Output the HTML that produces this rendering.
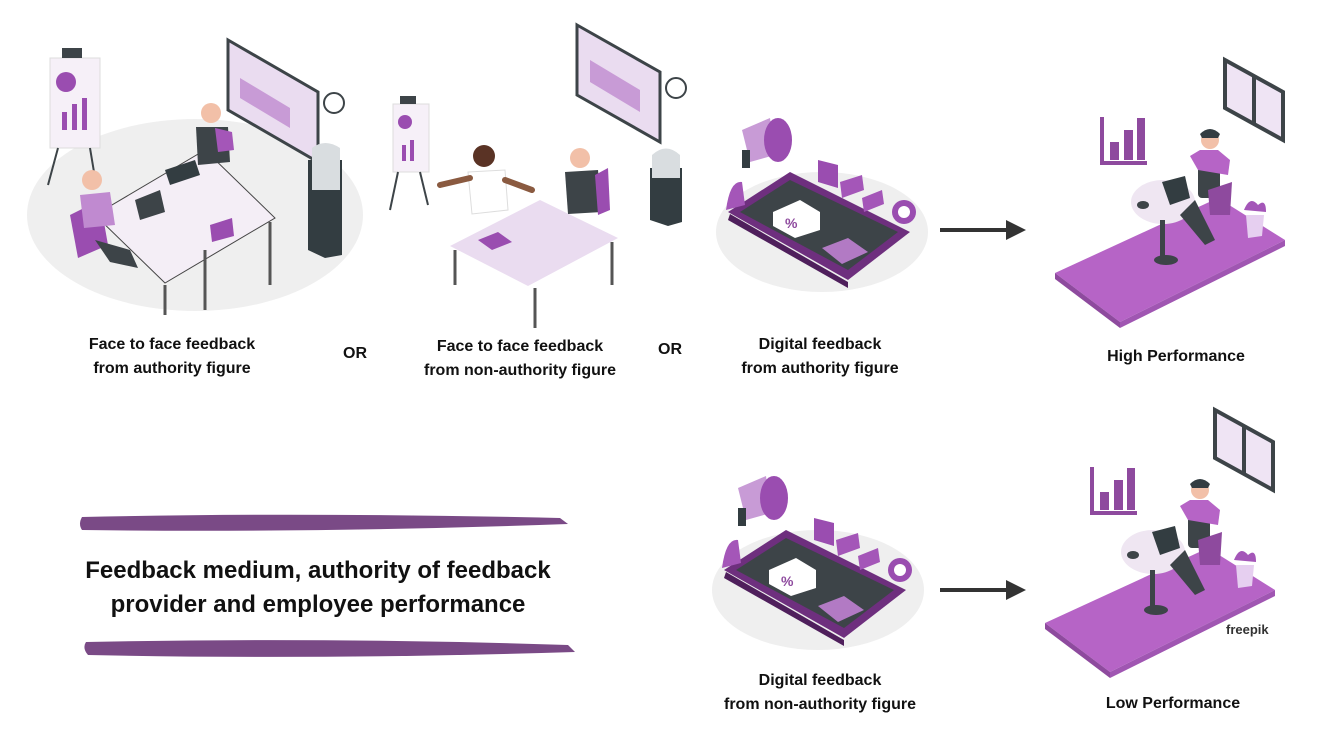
<!DOCTYPE html>
<html><head><style>
body{margin:0;background:#fff;width:1344px;height:756px;overflow:hidden;position:relative;font-family:"Liberation Sans",Arial,sans-serif}
.t{position:absolute;font-weight:bold;font-size:16px;color:#111;text-align:center;line-height:24px;white-space:nowrap}
.h{position:absolute;font-weight:bold;font-size:24px;color:#111;text-align:center;line-height:34px;white-space:nowrap}
svg{position:absolute;left:0;top:0}
</style></head><body>
<svg width="1344" height="756" viewBox="0 0 1344 756">
<defs>
<g id="phone">
 <ellipse cx="822" cy="232" rx="106" ry="60" fill="#efefef"/>
 <path d="M728 212 L790 172 L910 232 L848 280 Z" fill="#6e2f7e"/>
 <path d="M740 212 L790 180 L898 232 L848 270 Z" fill="#3d4448"/>
 <path d="M730 214 L848 282 L848 288 L728 220Z" fill="#4f1f5c"/>
 <path d="M773 212 L800 200 L820 212 L820 230 L795 238 L773 226Z" fill="#fff"/>
 <text x="785" y="228" font-size="14" font-weight="bold" fill="#8e4a9e" font-family="Liberation Sans,sans-serif">%</text>
 <path d="M822 248 L848 238 L868 252 L842 264Z" fill="#b27ac4"/>
 <path d="M742 130 L770 118 L775 155 L750 162Z" fill="#c89bd6"/>
 <ellipse cx="778" cy="140" rx="14" ry="22" fill="#9a4db0"/>
 <rect x="742" y="150" width="8" height="18" fill="#333d41"/>
 <path d="M818 160 L838 165 L838 188 L818 182Z" fill="#9a4db0"/>
 <path d="M840 182 L862 175 L864 190 L842 198Z" fill="#a456b8"/>
 <path d="M862 198 L882 190 L884 204 L864 212Z" fill="#a456b8"/>
 <circle cx="904" cy="212" r="12" fill="#9a4db0"/><circle cx="904" cy="212" r="6" fill="#fff"/>
 <path d="M726 210 Q730 180 742 182 L745 205Z" fill="#a456b8"/>
</g>
<g id="room">
 <path d="M1055 273 L1218 198 L1285 240 L1120 322 Z" fill="#b664c6"/>
 <path d="M1055 273 L1120 322 L1120 328 L1055 279Z" fill="#8e4a9e"/>
 <path d="M1120 322 L1285 240 L1285 246 L1120 328Z" fill="#a056b2"/>
 <path d="M1225 60 L1283 92 L1283 140 L1225 108Z" fill="#efe4f4" stroke="#3d4448" stroke-width="4"/>
 <line x1="1254" y1="76" x2="1254" y2="124" stroke="#3d4448" stroke-width="4"/>
 <path d="M1102 117 L1102 163 L1147 163" fill="none" stroke="#8e4a9e" stroke-width="4"/>
 <rect x="1110" y="142" width="9" height="18" fill="#8e4a9e"/><rect x="1124" y="130" width="9" height="30" fill="#8e4a9e"/><rect x="1137" y="118" width="8" height="42" fill="#8e4a9e"/>
 <ellipse cx="1163" cy="202" rx="32" ry="22" fill="#efe6f2"/>
 <rect x="1160" y="220" width="5" height="38" fill="#3d4448"/>
 <ellipse cx="1166" cy="260" rx="12" ry="5" fill="#3d4448"/>
 <path d="M1162 182 L1185 176 L1190 198 L1170 205Z" fill="#333d41"/>
 <rect x="1198" y="158" width="22" height="40" rx="4" fill="#3d4448"/>
 <path d="M1190 156 L1200 150 L1218 150 L1230 160 L1228 175 L1198 170Z" fill="#b664c6"/>
 <circle cx="1210" cy="140" r="9" fill="#f2c0a8"/>
 <path d="M1200 134 Q1210 124 1220 134 L1218 138 L1202 138Z" fill="#333d41"/>
 <path d="M1195 200 L1215 240 L1205 245 L1180 215Z" fill="#3d4448"/>
 <path d="M1208 190 L1232 182 L1230 215 L1210 215Z" fill="#8e4a9e"/>
 <path d="M1246 215 L1264 215 L1262 236 L1248 238Z" fill="#e6cff0"/>
 <path d="M1244 210 Q1250 195 1258 205 Q1266 198 1266 212Z" fill="#a456b8"/>
 <ellipse cx="1143" cy="205" rx="6" ry="4" fill="#3d4448"/>
</g>
</defs>

<!-- left scene 1 -->
<ellipse cx="195" cy="215" rx="168" ry="96" fill="#efefef"/>
<rect x="50" y="58" width="50" height="90" fill="#f6f0f8" stroke="#ddd"/>
<circle cx="66" cy="82" r="10" fill="#9a4db0"/>
<rect x="62" y="112" width="5" height="18" fill="#9a4db0"/><rect x="72" y="104" width="5" height="26" fill="#9a4db0"/><rect x="82" y="98" width="5" height="32" fill="#9a4db0"/>
<rect x="62" y="48" width="20" height="10" fill="#3d4448"/>
<line x1="58" y1="148" x2="48" y2="185" stroke="#3d4448" stroke-width="2"/><line x1="90" y1="148" x2="95" y2="178" stroke="#3d4448" stroke-width="2"/>
<path d="M228 40 L318 92 L318 162 L228 110Z" fill="#eadcf0" stroke="#3d4448" stroke-width="3"/>
<path d="M240 78 L290 108 L290 128 L240 98Z" fill="#c89bd6"/>
<circle cx="334" cy="103" r="10" fill="#fff" stroke="#3d4448" stroke-width="2"/>
<path d="M308 160 L342 160 L342 255 L325 258 L308 250Z" fill="#333d41"/>
<path d="M312 148 Q325 138 340 148 L340 190 L312 190Z" fill="#d9dde0"/>
<path d="M95 215 L205 150 L275 218 L165 283 Z" fill="#f4eef6" stroke="#444" stroke-width="1"/>
<line x1="165" y1="285" x2="165" y2="315" stroke="#555" stroke-width="3"/><line x1="270" y1="222" x2="270" y2="285" stroke="#555" stroke-width="3"/><line x1="205" y1="250" x2="205" y2="310" stroke="#555" stroke-width="3"/>
<path d="M135 200 L160 190 L165 212 L140 220Z" fill="#3d4448"/>
<path d="M210 225 L232 218 L234 236 L212 242Z" fill="#9a4db0"/>
<path d="M70 215 L100 200 L108 245 L78 258Z" fill="#9a4db0"/>
<circle cx="92" cy="180" r="10" fill="#f2c0a8"/>
<path d="M80 195 L110 192 L115 225 L84 228Z" fill="#c08ad0"/>
<path d="M95 240 L130 250 L138 268 L110 262Z" fill="#3d4448"/>
<circle cx="211" cy="113" r="10" fill="#f2c0a8"/>
<path d="M196 127 L228 127 L230 162 L198 165Z" fill="#3d4448"/>
<path d="M215 128 L232 132 L234 150 L218 152Z" fill="#a456b8"/>
<path d="M165 170 L195 160 L200 175 L170 185Z" fill="#333d41"/>

<!-- left scene 2 -->
<rect x="393" y="104" width="36" height="68" fill="#f6f0f8" stroke="#ddd"/>
<circle cx="405" cy="122" r="7" fill="#9a4db0"/>
<rect x="402" y="145" width="4" height="16" fill="#9a4db0"/><rect x="410" y="140" width="4" height="21" fill="#9a4db0"/>
<rect x="400" y="96" width="16" height="8" fill="#3d4448"/>
<line x1="398" y1="172" x2="390" y2="210" stroke="#3d4448" stroke-width="2"/><line x1="420" y1="172" x2="428" y2="205" stroke="#3d4448" stroke-width="2"/>
<path d="M577 25 L660 72 L660 142 L577 95Z" fill="#eadcf0" stroke="#3d4448" stroke-width="3"/>
<path d="M590 60 L640 90 L640 112 L590 82Z" fill="#c89bd6"/>
<circle cx="676" cy="88" r="10" fill="#fff" stroke="#3d4448" stroke-width="2"/>
<path d="M650 168 L682 168 L682 222 L668 226 L650 220Z" fill="#333d41"/>
<path d="M652 155 Q666 142 680 155 L680 178 L652 178Z" fill="#d9dde0"/>
<path d="M450 246 L540 200 L618 238 L528 286 Z" fill="#eadcf0"/>
<line x1="535" y1="288" x2="535" y2="328" stroke="#555" stroke-width="3"/><line x1="455" y1="250" x2="455" y2="285" stroke="#555" stroke-width="3"/><line x1="612" y1="242" x2="612" y2="285" stroke="#555" stroke-width="3"/>
<path d="M478 240 L498 232 L512 242 L492 250Z" fill="#9a4db0"/>
<circle cx="484" cy="156" r="11" fill="#5a3325"/>
<path d="M468 172 L505 170 L508 210 L472 214Z" fill="#fff" stroke="#ddd"/>
<path d="M440 185 L470 178 M505 180 L532 190" stroke="#8a5a40" stroke-width="6" stroke-linecap="round"/>
<circle cx="580" cy="158" r="10" fill="#f2c0a8"/>
<path d="M565 172 L598 170 L602 212 L568 214Z" fill="#3d4448"/>
<path d="M595 175 L608 168 L610 210 L598 215Z" fill="#9a4db0"/>

<use href="#phone"/>
<use href="#phone" transform="translate(-4,358)"/>
<use href="#room"/>
<use href="#room" transform="translate(-10,350)"/>

<!-- arrows -->
<line x1="940" y1="230" x2="1010" y2="230" stroke="#333" stroke-width="4"/>
<path d="M1006 220 L1026 230 L1006 240Z" fill="#333"/>
<line x1="940" y1="590" x2="1010" y2="590" stroke="#333" stroke-width="4"/>
<path d="M1006 580 L1026 590 L1006 600Z" fill="#333"/>

<!-- brush strokes -->
<path d="M82 517 Q300 512 560 518 L568 524 Q320 533 82 530 Q78 524 82 517Z" fill="#7a4a86"/>
<path d="M86 642 Q320 637 568 645 L575 652 Q320 660 88 655 Q82 648 86 642Z" fill="#7a4a86"/>
<text x="1226" y="634" font-size="13" font-weight="bold" fill="#333" font-family="Liberation Sans,sans-serif">freepik</text>
</svg>

<div class="t" style="left:72px;top:333px;width:200px">Face to face feedback<br>from authority figure</div>
<div class="t" style="left:335px;top:342px;width:40px">OR</div>
<div class="t" style="left:410px;top:335px;width:220px">Face to face feedback<br>from non-authority figure</div>
<div class="t" style="left:650px;top:338px;width:40px">OR</div>
<div class="t" style="left:720px;top:333px;width:200px">Digital feedback<br>from authority figure</div>
<div class="t" style="left:1076px;top:345px;width:200px">High Performance</div>
<div class="h" style="left:40px;top:554px;width:556px">Feedback medium, authority of feedback<br>provider and employee performance</div>
<div class="t" style="left:705px;top:669px;width:230px">Digital feedback<br>from non-authority figure</div>
<div class="t" style="left:1073px;top:692px;width:200px">Low Performance</div>
</body></html>
